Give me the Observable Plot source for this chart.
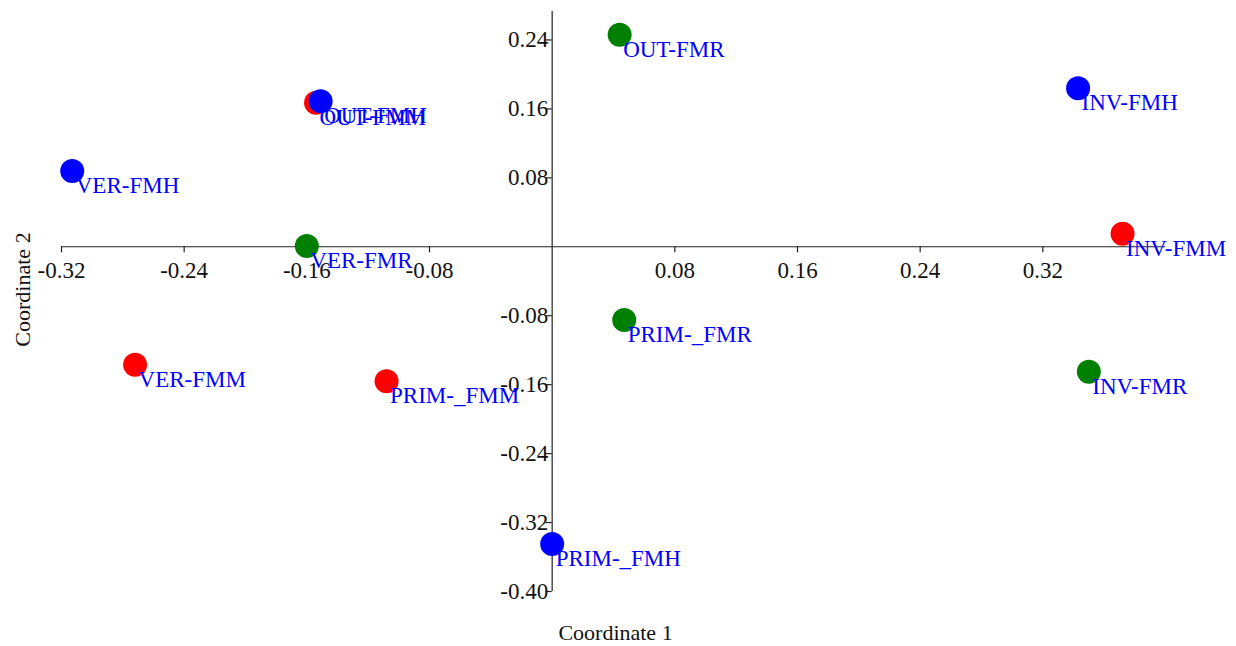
<!DOCTYPE html>
<html><head><meta charset="utf-8">
<script src="https://cdn.jsdelivr.net/npm/d3@7"></script>
<script src="https://cdn.jsdelivr.net/npm/@observablehq/plot@0.6"></script>
<style>body{margin:0;background:#fff} svg{display:block}</style>
</head><body><div id="chart"></div>
<script>
// Data (PCoA scores)
const names  = ["PRIM-_FMR","VER-FMR","OUT-FMR","INV-FMR","PRIM-_FMM","VER-FMM","OUT-FMM","INV-FMM","PRIM-_FMH","VER-FMH","OUT-FMH","INV-FMH"];
const groups = ["FMR","FMR","FMR","FMR","FMM","FMM","FMM","FMM","FMH","FMH","FMH","FMH"];
const coord1 = [0.047, -0.160, 0.044, 0.350, -0.108, -0.272, -0.154, 0.372, 0.000, -0.313, -0.151, 0.343];
const coord2 = [-0.085, 0.001, 0.246, -0.145, -0.156, -0.137, 0.167, 0.015, -0.345, 0.088, 0.169, 0.184];
const groupNames  = ["FMR","FMM","FMH"];
const groupColors = ["#008000","#ff0000","#0000ff"];
const xTicks = [-0.32,-0.24,-0.16,-0.08,0.08,0.16,0.24,0.32];
const yTicks = [-0.40,-0.32,-0.24,-0.16,-0.08,0.08,0.16,0.24];
const xTitle = "Coordinate 1";
const yTitle = "Coordinate 2";

const points = names.map((n,i)=>({name:n, group:groups[i], x:coord1[i], y:coord2[i]}));
const serif = "'Liberation Serif','Times New Roman',serif";

const chart = Plot.plot({
  width: 1236, height: 646,
  marginLeft: 61, marginRight: 71, marginTop: 11, marginBottom: 55,
  style: {fontFamily: serif, background: "#fff"},
  x: {domain: [-0.32, 0.40], axis: null},
  y: {domain: [-0.40, 0.273], axis: null},
  color: {domain: groupNames, range: groupColors},
  marks: [
    Plot.ruleY([0], {stroke: "#222", strokeWidth: 1.2}),
    Plot.ruleX([0], {stroke: "#222", strokeWidth: 1.2}),
    Plot.ruleX(xTicks, {x: d=>d, y1: 0, y2: 0, insetBottom: -6, stroke: "#222", strokeWidth: 1.2}),
    Plot.ruleY(yTicks, {y: d=>d, x1: 0, x2: 0, insetLeft: -6, stroke: "#222", strokeWidth: 1.2}),
    Plot.text(xTicks, {x: d=>d, y: 0, text: d=>d.toFixed(2), lineAnchor: "bottom", dy: 31, fontSize: 23, fill: "#111"}),
    Plot.text(yTicks, {x: 0, y: d=>d, text: d=>d.toFixed(2), textAnchor: "end", lineAnchor: "middle", dx: -4, fontSize: 23, fill: "#111"}),
    Plot.dot(points, {x: "x", y: "y", r: 12, fill: "group", stroke: null}),
    Plot.text(points, {x: "x", y: "y", text: "name", textAnchor: "start", lineAnchor: "bottom", dx: 3.5, dy: 22, fontSize: 23, fill: "#0000ff"}),
    Plot.text([xTitle], {frameAnchor: "bottom", text: d=>d, textAnchor: "middle", lineAnchor: "bottom", dy: 48, dx: 2, fontSize: 22, fill: "#111"}),
    Plot.text([yTitle], {frameAnchor: "left", text: d=>d, rotate: -90, textAnchor: "middle", lineAnchor: "bottom", dx: -32, dy: -12, fontSize: 22, fill: "#111"})
  ]
});
document.getElementById("chart").appendChild(chart);
</script></body></html>
